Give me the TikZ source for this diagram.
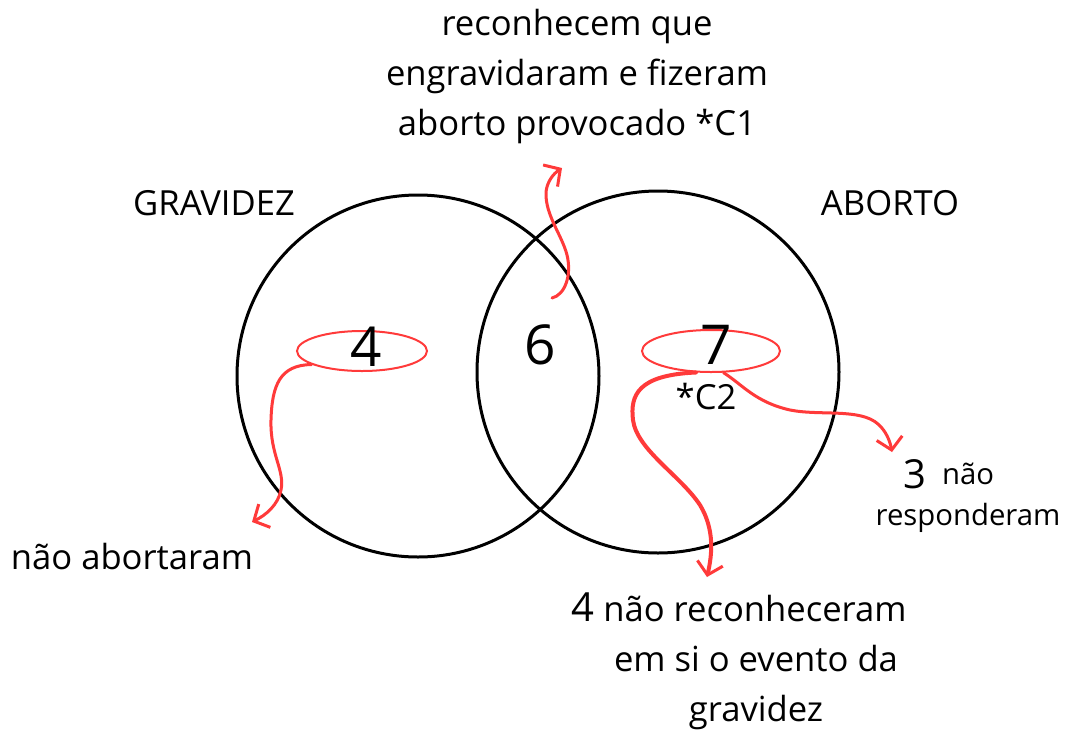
\documentclass[tikz,border=0pt]{standalone}
\usepackage{fontspec}
\setmainfont{Open Sans}
\usetikzlibrary{shapes.geometric,arrows.meta}
\definecolor{pen}{RGB}{255,58,58}
\tikzset{
  lab/.style={inner sep=0pt, font=\fontsize{34.6}{50}\selectfont, align=center},
  big/.style={inner sep=0pt, font=\fontsize{55}{60}\selectfont},
  set/.style={draw=black, line width=3pt, circle, minimum size=362pt, inner sep=0pt},
  loop/.style={draw=pen, line width=2pt, ellipse, inner sep=0pt},
  redarrow/.style={draw=pen, line width=3pt, line cap=round, -{Straight Barb[length=12pt,width=26pt,line width=3pt]}},
}
\begin{document}
\begin{tikzpicture}[x=1pt,y=-1pt]
\useasboundingbox[fill=white] (0,0) rectangle (1072,729);
% sets
\node[set] (L) at (418,376) {};
\node[set] (R) at (658,372) {};
% red loops
\node[loop, minimum width=130pt, minimum height=40pt] (e4) at (362,351) {};
\node[loop, minimum width=138pt, minimum height=42pt] (e7) at (711,351) {};
% numbers
\node[big] (n4) at (366,347) {4};
\node[big] (n6) at (540,345) {6};
\node[big] (n7) at (716,345) {7};
\node[lab] (c2) at (706,397) {*C2};
% labels
\node[lab] (top) at (577,77) {reconhecem que\\engravidaram e fizeram\\aborto provocado *C1};
\node[lab] (grav) at (214,203) {GRAVIDEZ};
\node[lab] (abo) at (890,203) {ABORTO};
\node[lab] (nab) at (132,557) {não abortaram};
\node[inner sep=0pt, font=\fontsize{40}{50}\selectfont] (three) at (915,474) {3};
\node[lab, font=\fontsize{29.3}{41}\selectfont] (nresp) at (968,498) {não\\responderam};
\node[lab] (bottom) at (756,661) {{\fontsize{40}{50}\selectfont 4} não reconheceram\hspace*{34pt}\\em si o evento da\\gravidez};
% arrow ends
\coordinate (t1) at (552,298);
\coordinate (t2) at (562,168);
\coordinate (a4) at (252,522);
\coordinate (a7) at (707,577);
\coordinate (a3) at (892,452);
% arrows
\draw[redarrow] (t1) .. controls (565,295) and (572,275) .. (567,255)
  .. controls (562,235) and (545,215) .. (546,192)
  .. controls (547,182) and (553,174) .. (t2);
\draw[redarrow] (e4.195) .. controls (280,365) and (272,385) .. (271,420)
  .. controls (270,455) and (285,470) .. (281,490)
  .. controls (278,505) and (266,515) .. (a4);
\draw[redarrow, line width=4pt] (e7.235) .. controls (638,375) and (630,395) .. (633,420)
  .. controls (637,450) and (680,475) .. (700,505)
  .. controls (715,530) and (712,555) .. (a7);
\draw[redarrow] (e7.300) .. controls (743,385) and (755,402) .. (790,410)
  .. controls (820,416) and (860,408) .. (878,424)
  .. controls (886,431) and (890,441) .. (a3);
\end{tikzpicture}
\end{document}
